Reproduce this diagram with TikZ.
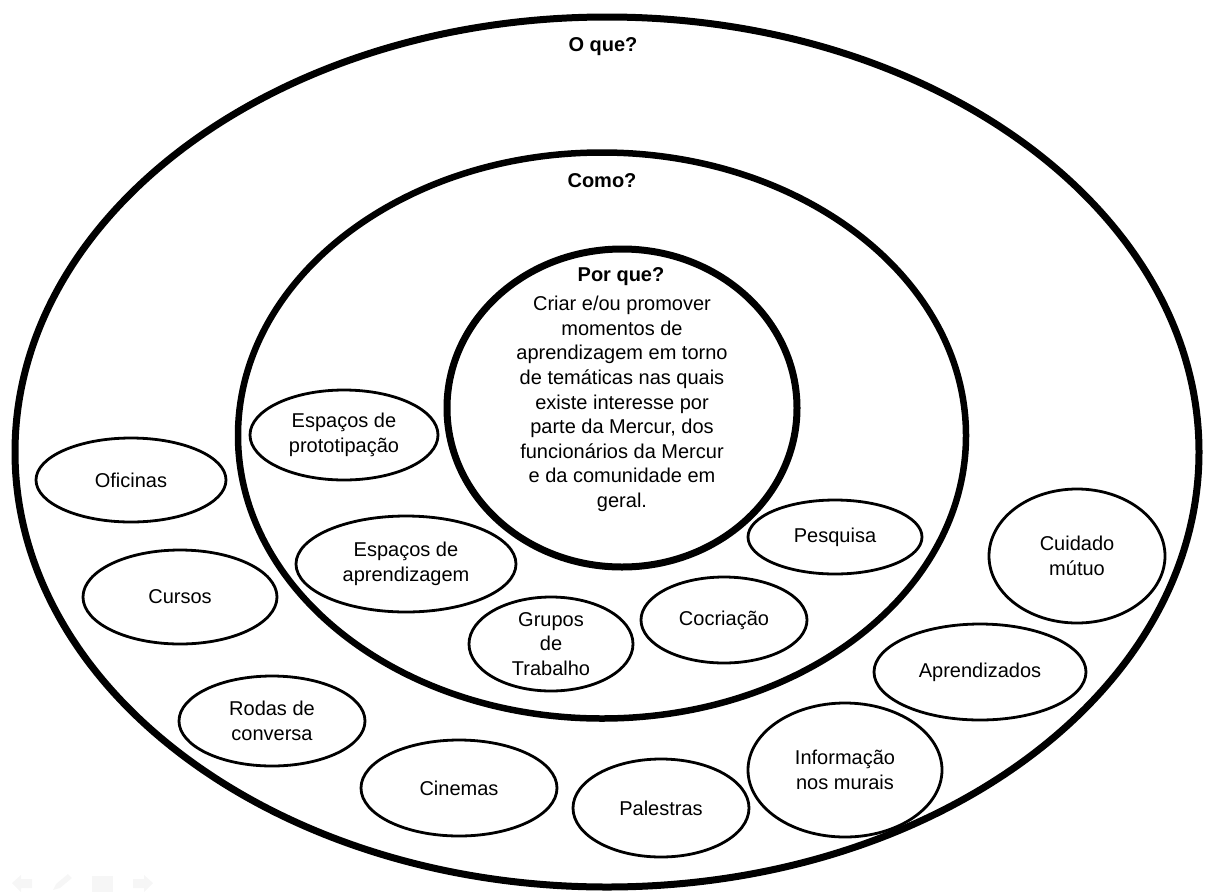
\documentclass[tikz,border=0pt]{standalone}
\usepackage{fontspec}
\setmainfont{Liberation Sans}
\usetikzlibrary{shapes.geometric}
\begin{document}
\begin{tikzpicture}[x=1pt,y=-1pt,
  ring/.style={draw, ellipse, inner sep=0pt, line width=7pt},
  wh/.style 2 args={minimum width=#1pt, minimum height=#2pt},
  bubble/.style={draw, ellipse, inner sep=0pt, line width=2.8pt, align=center,
                 font=\fontsize{20}{24.6}\selectfont},
  heading/.style={inner sep=0pt, font=\bfseries\fontsize{20}{24}\selectfont},
  body/.style={inner sep=0pt, align=center, font=\fontsize{20}{24.6}\selectfont},
  navicon/.style={fill=gray!7, draw=none}]
\useasboundingbox (0,0) rectangle (1207,892);

% three nested rings
\node[ring, wh={1184}{870}] (outer) at (607,452) {};
\node[ring, line width=6.5pt, wh={728}{566}] (middle) at (602,435.5) {};
\node[ring, wh={350}{318}] (inner) at (622,408) {};

% ring headings
\node[heading] (oque) at (603,47) {O que?};
\node[heading] (como) at (602,181) {Como?};
\node[heading] (porque) at (621,277) {Por que?};

% purpose text in the centre
\node[body] (purpose) at (622,404) {Criar e/ou promover\\momentos de\\aprendizagem em torno\\de temáticas nas quais\\existe interesse por\\parte da Mercur, dos\\funcionários da Mercur\\e da comunidade em\\geral.};

% "Como?" ring
\node[bubble, wh={188}{90}] (proto) at (344,435) {Espaços de\\prototipação};
\node[bubble, wh={220}{96}] (espaprend) at (406,564) {Espaços de\\aprendizagem};
\node[bubble, wh={164}{94}] (grupos) at (551,644) {Grupos\\de\\Trabalho};
\node[bubble, wh={166}{86}] (cocri) at (724,620) {Cocriação};
\node[bubble, wh={174}{74}] (pesquisa) at (835,537) {Pesquisa};

% "O que?" ring
\node[bubble, wh={190}{84}] (oficinas) at (131,480) {Oficinas};
\node[bubble, wh={194}{94}] (cursos) at (180,597) {Cursos};
\node[bubble, wh={186}{90}] (rodas) at (272,721) {Rodas de\\conversa};
\node[bubble, wh={196}{96}] (cinemas) at (459,788) {Cinemas};
\node[bubble, wh={176}{98}] (palestras) at (661,808) {Palestras};
\node[bubble, wh={194}{134}] (murais) at (845,770) {Informação\\nos murais};
\node[bubble, wh={212}{96}] (aprendizados) at (980,672) {Aprendizados};
\node[bubble, wh={176}{134}] (cuidado) at (1077,556) {Cuidado\\mútuo};

% faint slide-navigation icons, bottom left
\fill[navicon] (12,883) -- (21,875) -- (21,879) -- (32,879) -- (32,888) -- (21,888) -- (21,892) -- cycle;
\fill[navicon] (53,890) -- (56,884) -- (68,874) -- (72,878) -- (60,888) -- cycle;
\fill[navicon] (92,876) rectangle (113,892);
\fill[navicon] (153,883) -- (144,875) -- (144,879) -- (133,879) -- (133,888) -- (144,888) -- (144,892) -- cycle;
\end{tikzpicture}
\end{document}
